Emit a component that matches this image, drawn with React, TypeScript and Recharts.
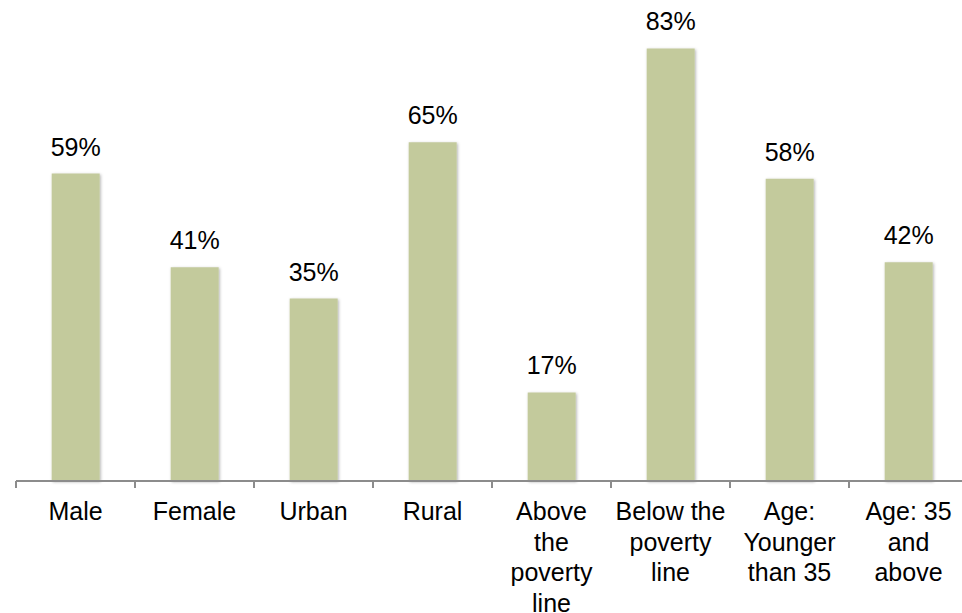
import React from "react";
import { BarChart, Bar, XAxis, YAxis, LabelList } from "recharts";

const categories = [
  "Male",
  "Female",
  "Urban",
  "Rural",
  "Above\nthe\npoverty\nline",
  "Below the\npoverty\nline",
  "Age:\nYounger\nthan 35",
  "Age: 35\nand\nabove",
];
const shares = [59, 41, 35, 65, 17, 83, 58, 42];

const data = categories.map((c, i) => ({ name: c, value: shares[i] }));

const CHART_W = 970;
const CHART_H = 613;
const M = { top: 12, right: 2, bottom: 0, left: 16 };
const BAND = (CHART_W - M.left - M.right) / categories.length;
const FONT = '"Liberation Sans", Arial, sans-serif';

const Tick = (props: any) => {
  const { x, y, payload, index } = props;
  const lines = String(payload.value).split("\n");
  const axisY = y - 8;
  return (
    <g>
      <line x1={x - BAND / 2} x2={x - BAND / 2} y1={axisY} y2={axisY + 7} stroke="#8c8c8c" strokeWidth={2} />
      {index === categories.length - 1 && (
        <line x1={x + BAND / 2} x2={x + BAND / 2} y1={axisY} y2={axisY + 7} stroke="#8c8c8c" strokeWidth={2} />
      )}
      <text x={x} y={axisY + 39} textAnchor="middle" fontFamily={FONT} fontSize={25} fill="#000">
        {lines.map((l, i) => (
          <tspan key={i} x={x} dy={i === 0 ? 0 : 30.5}>
            {l}
          </tspan>
        ))}
      </text>
    </g>
  );
};

export default function App() {
  return (
    <div style={{ position: "absolute", left: 0, top: 0, width: 962, height: 613, overflow: "hidden", background: "#fff" }}>
      <svg width={0} height={0} style={{ position: "absolute" }}>
        <defs>
          <filter id="barShadow" x="-20%" y="-20%" width="140%" height="140%">
            <feDropShadow dx={1} dy={1} stdDeviation={1.5} floodColor="#000" floodOpacity={0.3} />
          </filter>
        </defs>
      </svg>
      <BarChart width={CHART_W} height={CHART_H} data={data} margin={M} barCategoryGap="30%">
        <XAxis
          dataKey="name"
          interval={0}
          height={CHART_H - 481 - M.bottom}
          axisLine={{ stroke: "#8c8c8c", strokeWidth: 2 }}
          tickLine={false}
          tick={<Tick />}
        />
        <YAxis hide domain={[0, 90]} />
        <Bar dataKey="value" fill="#C3CA9C" isAnimationActive={false} style={{ filter: "url(#barShadow)" }}>
          <LabelList
            dataKey="value"
            position="top"
            offset={18}
            formatter={(v: any) => `${v}%`}
            style={{ fontFamily: FONT, fontSize: 25, fill: "#000" }}
          />
        </Bar>
      </BarChart>
    </div>
  );
}
